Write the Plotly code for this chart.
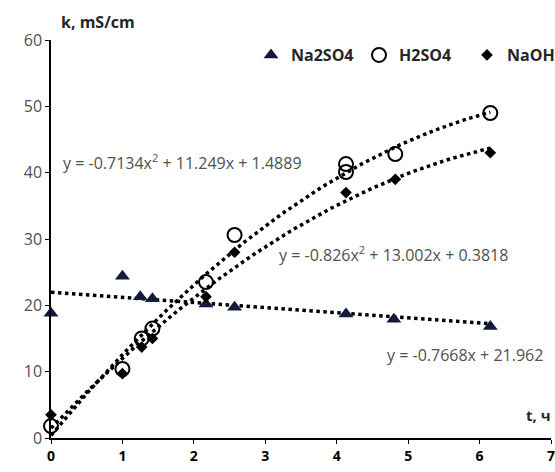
import numpy as np
import plotly.graph_objects as go

# Data
t_na2so4 = [0, 1, 1.25, 1.42, 2.17, 2.57, 4.13, 4.8, 6.15]
k_na2so4 = [18.8, 24.4, 21.3, 21.0, 20.2, 19.7, 18.7, 17.9, 16.8]

t_h2so4 = [0, 1, 1.27, 1.42, 2.17, 2.57, 4.13, 4.13, 4.82, 6.15]
k_h2so4 = [1.8, 10.4, 15.0, 16.5, 23.5, 30.6, 41.3, 40.1, 42.8, 49.0]

t_naoh = [0, 1, 1.27, 1.42, 2.17, 2.57, 4.13, 4.82, 6.15]
k_naoh = [3.5, 9.7, 13.7, 15.0, 21.3, 28.0, 37.0, 39.0, 43.0]

# trendline coefficients (as printed on the chart, highest power first)
coef_na2so4 = [-0.7668, 21.962]
coef_h2so4 = [-0.826, 13.002, 0.3818]
coef_naoh = [-0.7134, 11.249, 1.4889]

eq_na2so4 = "y = -0.7668x + 21.962"
eq_h2so4 = "y = -0.826x<sup>2</sup> + 13.002x + 0.3818"
eq_naoh = "y = -0.7134x<sup>2</sup> + 11.249x + 1.4889"

x_ticks = [0, 1, 2, 3, 4, 5, 6, 7]
y_ticks = [0, 10, 20, 30, 40, 50, 60]

FONT = "Open Sans"
fig = go.Figure()

tt = np.linspace(0, 6.15, 80)
for c in (coef_na2so4, coef_h2so4, coef_naoh):
    fig.add_trace(go.Scatter(x=tt, y=np.polyval(c, tt), mode="lines",
                             line=dict(color="black", width=3.5, dash="dot"),
                             showlegend=False, hoverinfo="skip"))

fig.add_trace(go.Scatter(x=t_na2so4, y=k_na2so4, mode="markers", name="Na2SO4",
                         cliponaxis=False,
                         marker=dict(symbol="triangle-up", size=13, color="#141a3c")))
fig.add_trace(go.Scatter(x=t_h2so4, y=k_h2so4, mode="markers", name="H2SO4",
                         cliponaxis=False,
                         marker=dict(symbol="circle-open", size=14, color="black",
                                     line=dict(width=2, color="black"))))
fig.add_trace(go.Scatter(x=t_naoh, y=k_naoh, mode="markers", name="NaOH",
                         cliponaxis=False,
                         marker=dict(symbol="diamond", size=9, color="black")))

fig.update_layout(
    width=575, height=472,
    margin=dict(l=51, r=24, t=40, b=34, autoexpand=False),
    plot_bgcolor="white", paper_bgcolor="white",
    font=dict(family=FONT, size=13, color="#404040"),
    showlegend=True,
    legend=dict(orientation="h", x=0.4, y=1.005, xanchor="left", yanchor="top",
                font=dict(family=FONT, size=16, color="#262626", weight="bold"),
                bgcolor="rgba(0,0,0,0)", itemwidth=30, tracegroupgap=0,
                entrywidth=63, entrywidthmode="pixels"),
    xaxis=dict(range=[0, 7], tickvals=x_ticks, showgrid=False, zeroline=False,
               automargin=False, ticklabeloverflow="allow",
               showline=True, linecolor="black", linewidth=1.5,
               ticks="outside", ticklen=4, tickcolor="black",
               tickfont=dict(family=FONT, size=14, color="black", weight="bold")),
    yaxis=dict(range=[0, 60], tickvals=y_ticks, showgrid=False, zeroline=False,
               automargin=False,
               showline=True, linecolor="black", linewidth=1.5,
               ticks="outside", ticklen=4, tickcolor="black",
               tickfont=dict(family=FONT, size=16, color="#505050")),
)

fig.add_annotation(xref="paper", yref="paper", x=0.016, y=1.045,
                   text="<b>k, mS/cm</b>", showarrow=False, xanchor="left", yanchor="middle",
                   font=dict(family=FONT, size=16, color="#262626"))
fig.add_annotation(xref="paper", yref="y", x=1.003, y=3.5, text="<b>t, ч</b>",
                   showarrow=False, xanchor="right",
                   font=dict(family=FONT, size=15, color="#262626"))
fig.add_annotation(xref="x", yref="y", x=0.14, y=41.6, text=eq_naoh, showarrow=False,
                   xanchor="left", font=dict(family=FONT, size=16, color="#505050"))
fig.add_annotation(xref="x", yref="y", x=3.16, y=27.7, text=eq_h2so4, showarrow=False,
                   xanchor="left", font=dict(family=FONT, size=16, color="#505050"))
fig.add_annotation(xref="x", yref="y", x=4.68, y=12.5, text=eq_na2so4, showarrow=False,
                   xanchor="left", font=dict(family=FONT, size=16, color="#505050"))

fig.write_html("out.html", config={"displayModeBar": False},
               post_script="document.body.style.margin='0';document.body.style.overflow='hidden';")
